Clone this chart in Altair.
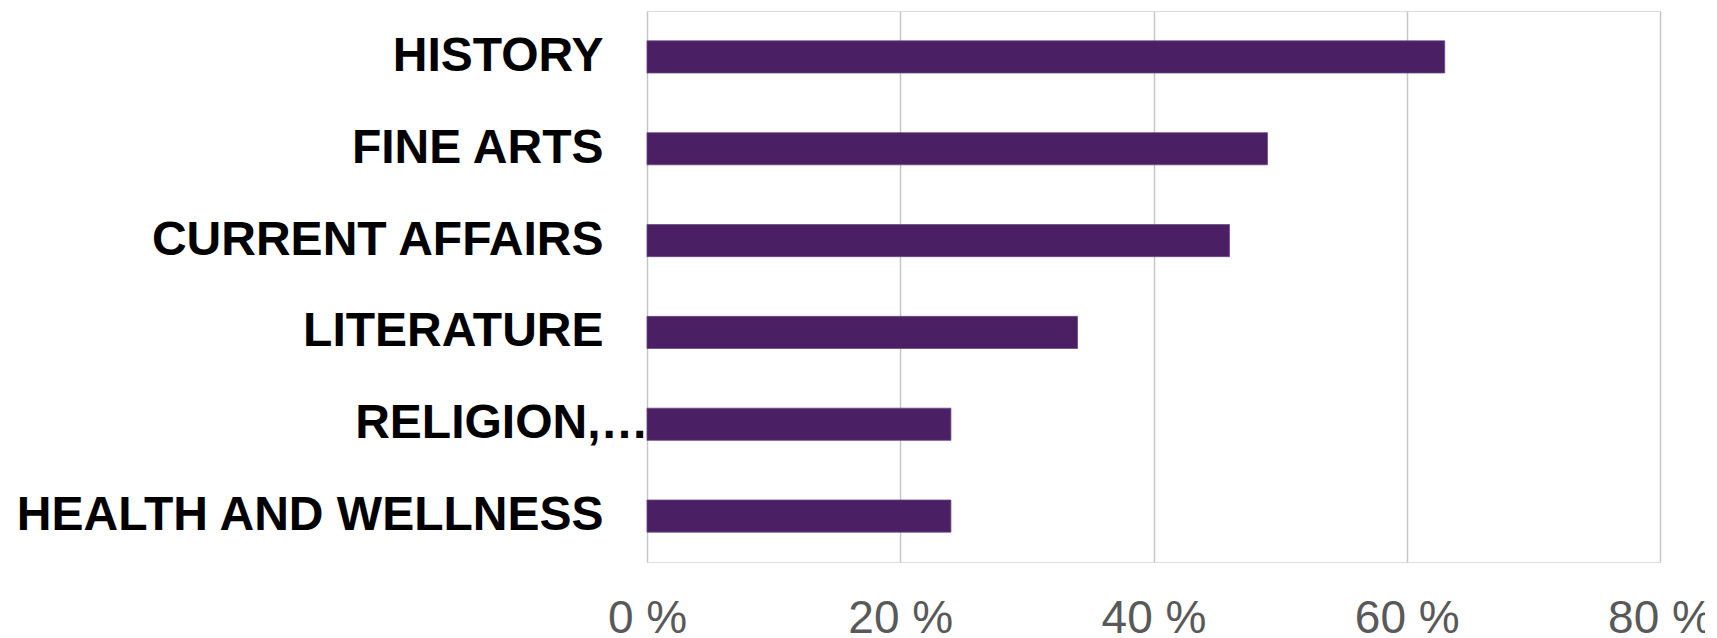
import altair as alt
import pandas as pd

categories = ["HISTORY", "FINE ARTS", "CURRENT AFFAIRS", "LITERATURE", "RELIGION,…", "HEALTH AND WELLNESS"]
values = [63, 49, 46, 34, 24, 24]
x_ticks = [0, 20, 40, 60, 80]

df = pd.DataFrame({"category": categories, "value": values})

FONT = "Liberation Sans"

chart = (
    alt.Chart(df)
    .mark_bar(color="#4A1F63", stroke="#6B4A85", strokeWidth=0.8)
    .encode(
        x=alt.X(
            "value:Q",
            scale=alt.Scale(domain=[0, 80], nice=False),
            axis=alt.Axis(
                values=x_ticks,
                labelExpr="datum.value + ' %'",
                title=None,
                domain=False,
                ticks=False,
                grid=True,
                gridColor="#C6C6C6",
                gridWidth=1.5,
                labelFont=FONT,
                labelFontSize=46,
                labelColor="#595959",
                labelPadding=34,
                labelFlush=False,
                labelOverlap=False,
            ),
        ),
        y=alt.Y(
            "category:N",
            sort=categories,
            scale=alt.Scale(paddingInner=0.65, paddingOuter=0.325),
            axis=alt.Axis(
                title=None,
                domain=False,
                ticks=False,
                grid=False,
                labelFont=FONT,
                labelFontSize=48,
                labelFontWeight="bold",
                labelColor="#000000",
                labelLimit=0,
                labelPadding={"condition": {"test": "datum.value == 'RELIGION,…'", "value": -1}, "value": 44},
            ),
        ),
    )
    .properties(
        width=1013,
        height=551,
        autosize=alt.AutoSizeParams(type="none"),
        padding={"left": 639, "top": 3, "right": 45, "bottom": 76},
    )
    .configure_view(stroke=None)
    .configure(background="#FFFFFF")
)

chart.save("out.html", embed_options={"renderer": "svg", "actions": False})
